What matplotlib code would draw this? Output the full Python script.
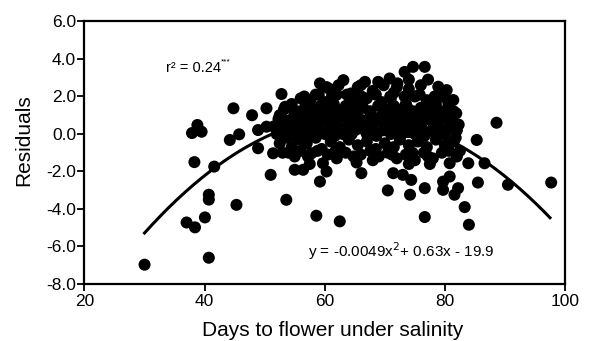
import matplotlib
matplotlib.use("Agg")
import matplotlib.pyplot as plt
import numpy as np

plt.rcParams['font.family'] = ['Liberation Sans', 'DejaVu Sans']
plt.rcParams['axes.unicode_minus'] = False

# Outlying / sparse points (days, residual)
sparse_x = [30.0, 40.7, 37.0, 38.4, 40.05, 40.7, 40.7, 45.3, 38.3, 41.6,
            37.9, 38.8, 39.5, 44.8, 44.2, 45.75, 47.9, 48.9, 48.9, 50.3,
            50.3, 51.0, 52.8, 53.6, 51.4, 53.4, 55.0,
            76.65, 74.7, 73.3, 70.8, 68.9, 66.7, 63.1, 59.2, 78.9, 80.3, 81.4,
            88.6, 85.3, 83.9, 86.6, 85.5, 90.5, 97.7, 83.3, 84.0, 76.65,
            81.6, 82.2, 79.7, 76.65, 74.2, 74.4, 73.0, 71.4, 70.5, 62.5,
            58.6, 59.2, 60.3, 66.1, 65.3, 80.8, 80.8, 79.7, 59.7, 56.4, 57.8]
sparse_y = [-6.97, -6.6, -4.72, -4.98, -4.45, -3.24, -3.5, -3.78, -1.5, -1.74,
            0.05, 0.48, 0.12, 1.37, -0.32, -0.02, 1.0, -0.76, 0.21, 1.37,
            0.39, -2.18, 2.13, -3.51, -1.03, 1.45, -1.91,
            3.58, 3.58, 3.31, 2.96, 2.78, 2.78, 2.87, 2.7, 2.52, 2.34, 1.81,
            0.6, -0.32, -1.56, -1.56, -2.59, -2.71, -2.59, -3.9, -4.84, -4.43,
            -3.24, -2.89, -2.98, -2.89, -3.24, -2.45, -2.18, -2.09, -3.01, -4.66,
            -4.36, -2.54, -2.0, -2.09, -1.52, -1.56, -2.27, -2.54, -1.56, -1.91, -1.03]

# Dense central cluster
cluster_x = [60.8, 65.5, 72.0, 76.0, 71.5, 68.0, 62.0, 57.6, 64.4, 74.0,
             54.5, 56.0, 58.5, 60.0, 61.5, 63.5, 65.0, 67.0, 69.5, 71.0, 73.5, 75.0, 77.0, 78.5, 80.5, 79.5,
             52.5, 55.0, 56.5, 57.5, 59.0, 60.5, 62.0, 63.0, 64.5, 67.5, 68.5, 70.0, 72.5, 74.0, 76.5, 77.5, 79.0, 80.5, 81.5, 71.5, 66.0,
             51.5, 52.0, 53.0, 54.0, 55.0, 56.0, 57.0, 58.0, 59.0, 60.0, 61.0, 62.0, 63.0, 64.0, 65.0, 66.0,
             67.0, 68.0, 69.0, 70.0, 71.0, 72.0, 73.0, 74.0, 75.0, 76.0, 77.0, 78.0, 79.0, 80.0, 81.0, 82.0,
             52.5, 53.5, 54.5, 55.5, 57.0, 58.5, 59.5, 61.0, 62.5, 64.0, 65.5, 67.0, 68.5, 70.0, 71.5, 72.5,
             74.0, 75.5, 77.0, 78.5, 80.0, 81.5, 82.5,
             53.0, 55.0, 56.0, 60.5, 62.0, 63.5, 66.0, 69.0, 70.5, 72.0, 73.5, 75.0, 76.5, 78.0, 79.5, 82.0,
             57.5, 74.0, 77.5,
             60.3, 62.3, 66.0, 69.8, 72.1, 74.0, 77.2, 79.6,
             56.6, 59.0, 61.2, 63.7, 66.1, 68.5, 70.9, 73.3, 75.8, 78.3, 80.6,
             53.2, 54.4, 55.6, 56.8, 58.0, 59.3, 60.4, 61.6, 62.8, 64.1, 65.3, 66.4, 67.6, 68.9, 70.0, 71.2,
             72.4, 73.6, 74.8, 76.0, 77.2, 78.4, 79.6, 80.8, 81.9,
             52.3, 53.6, 54.8, 56.0, 57.2, 58.4, 59.6, 60.8, 62.0, 63.2, 64.4, 65.6, 66.8, 68.0, 69.2, 70.4,
             71.6, 72.8, 74.0, 75.2, 76.4, 77.6, 78.8, 80.0, 81.2, 82.3,
             52.8, 54.2, 55.4, 56.7, 57.9, 59.1, 60.5, 61.7, 62.9, 64.5, 65.8, 67.3, 68.6, 69.8, 71.3, 72.6,
             73.9, 75.3, 76.6, 78.1, 79.4, 80.7, 81.8,
             54.0, 57.2, 58.8, 61.8, 64.8, 67.6, 68.0, 71.2, 74.6, 77.2, 80.7]
cluster_y = [2.4, 2.5, 2.5, 2.6, 2.2, 2.3, 2.1, 1.8, 2.16, 2.4,
             1.6, 1.9, 2.1, 1.7, 1.6, 1.5, 1.8, 1.9, 1.7, 1.9, 1.6, 2.0, 1.8, 1.6, 1.8, 2.0,
             1.0, 1.2, 0.9, 1.3, 1.0, 1.3, 0.9, 1.3, 1.1, 1.2, 0.8, 1.3, 1.0, 1.3, 1.2, 0.8, 1.1, 1.0, 1.2, 1.5, 1.5,
             0.4, 0.0, 0.6, 0.2, 0.5, 0.0, 0.6, 0.2, 0.5, 0.0, 0.6, 0.3, 0.0, 0.5, 0.2, 0.6,
             0.0, 0.4, 0.7, 0.3, 0.0, 0.5, 0.2, 0.6, 0.0, 0.4, 0.1, 0.6, 0.3, 0.0, 0.5, 0.2,
             -0.5, -0.2, -0.7, -0.3, -0.5, -0.2, -0.8, -0.4, -0.7, -0.3, -0.6, -0.4, -0.8, -0.5, -0.7, -0.3,
             -0.6, -0.4, -0.7, -0.3, -0.6, -0.4, -0.9,
             -1.0, -1.2, -0.9, -1.1, -1.3, -1.0, -1.1, -1.2, -1.0, -1.3, -1.1, -1.4, -1.0, -1.3, -1.0, -1.2,
             -1.6, -1.6, -1.6,
             2.5, 2.6, 2.6, 2.6, 2.7, 2.9, 2.9, 2.1,
             2.0, 2.1, 2.0, 2.1, 2.0, 2.1, 2.0, 2.0, 2.1, 2.0, 1.6,
             1.3, 1.5, 1.2, 1.5, 1.3, 1.5, 1.2, 1.4, 1.2, 1.5, 1.3, 1.4, 1.2, 1.5, 1.2, 1.4,
             1.3, 1.5, 1.2, 1.4, 1.3, 1.5, 1.2, 1.4, 1.1,
             0.8, 0.7, 0.9, 0.6, 0.9, 0.7, 0.9, 0.6, 0.8, 0.9, 0.7, 0.9, 0.6, 0.8, 0.9, 0.7,
             0.9, 0.6, 0.8, 0.9, 0.7, 0.9, 0.6, 0.8, 0.7, 0.5,
             0.2, -0.1, 0.3, 0.1, -0.1, 0.3, 0.1, -0.1, 0.3, 0.0, 0.3, 0.2, -0.1, 0.2, 0.3, -0.1,
             0.1, 0.3, -0.1, 0.2, 0.0, 0.3, -0.2,
             -1.0, -1.2, -0.9, -0.9, -1.2, -0.9, -1.4, -1.1, -1.0, -1.2, -0.9]

# Fitted quadratic curve (as drawn)
curve_coef = [-0.00511, 0.6636, -20.589]
curve_range = [30.0, 97.5]

x_ticks = [20, 40, 60, 80, 100]
y_ticks = [-8.0, -6.0, -4.0, -2.0, 0.0, 2.0, 4.0, 6.0]

fig = plt.figure(figsize=(5.92, 3.41), dpi=100)
ax = fig.add_axes([0.1427, 0.1672, 0.8117, 0.7698])

ax.scatter(sparse_x + cluster_x, sparse_y + cluster_y, s=75, c='black',
           edgecolors='none', zorder=3)

xc = np.linspace(curve_range[0], curve_range[1], 200)
yc = np.polyval(curve_coef, xc)
ax.plot(xc, yc, color='black', lw=2.2, zorder=2)

ax.set_xlim(20, 100)
ax.set_ylim(-8, 6)
ax.set_xticks(x_ticks)
ax.set_xticklabels([str(t) for t in x_ticks])
ax.set_yticks(y_ticks)
ax.set_yticklabels(['%.1f' % t for t in y_ticks])
ax.tick_params(axis='both', direction='out', length=5, width=1.3,
               labelsize=12.5, colors='black', pad=2)
ax.tick_params(axis='y', pad=1)
for sp in ax.spines.values():
    sp.set_linewidth(1.6)
    sp.set_color('black')

ax.set_xlabel('Days to flower under salinity', fontsize=15)
ax.xaxis.set_label_coords(0.516, -0.141)
ax.set_ylabel('Residuals', fontsize=15)
ax.yaxis.set_label_coords(-0.107, 0.549)

t = ax.text(33.6, 3.5, 'r\u00b2 = 0.24', fontsize=10.5, va='center', ha='left')
ax.annotate('***', xy=(1.0, 0.95), xycoords=t, fontsize=6, va='center', ha='left')
ax.text(57.2, -6.27, r'y = -0.0049x$^{2}$+ 0.63x - 19.9', fontsize=11,
        va='center', ha='left')

fig.savefig('out.png', dpi=100)
